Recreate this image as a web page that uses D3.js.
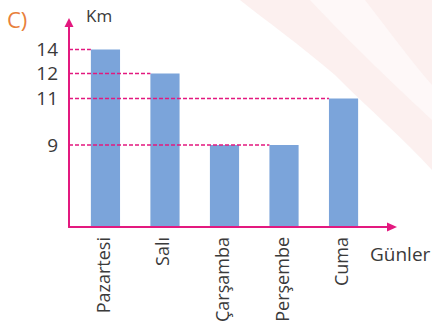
<!DOCTYPE html>
<html>
<head>
<meta charset="utf-8">
<script src="https://cdn.jsdelivr.net/npm/d3@7/dist/d3.min.js"></script>
<style>
  html, body { margin: 0; padding: 0; background: #fff; }
  svg { display: block; }
  text { font-family: "Open Sans", "Noto Sans", sans-serif; fill: #3a3a3a; }
</style>
</head>
<body>
<svg id="chart" width="432" height="332"></svg>
<script>
// Distance run each day (km)
const days = ["Pazartesi", "Salı", "Çarşamba", "Perşembe", "Cuma"];
const km = [14, 12, 9, 9, 11];
const tickValues = [14, 12, 11, 9];

const magenta = "#e3197f";
const barColor = "#7ba4da";

const svg = d3.select("#chart");

// pale decorative backdrop in the top-right corner
const bg = svg.append("g");
bg.append("path")
  .attr("d", "M240,0 L432,0 L432,170 C405,140 370,110 335,75 C300,45 265,20 240,0 Z")
  .attr("fill", "#fcf0ef");
bg.append("path")
  .attr("d", "M310,0 L365,0 C392,35 412,62 432,85 L432,120 C400,90 352,45 310,0 Z")
  .attr("fill", "#fef8f8");

const x0 = 69, y0 = 227;          // axis origin
const xEnd = 397, yTop = 18;      // arrow tips

// Category axis
const x = d3.scaleBand()
  .domain(days)
  .range([76, 373])
  .paddingInner(0.51)
  .paddingOuter(0.25);

// The value axis is drawn schematically: uneven spacing between labelled levels
const y = d3.scaleLinear()
  .domain([0, 9, 11, 12, 14])
  .range([y0, 145, 98.5, 73.5, 49.5]);

// Bars
svg.append("g")
  .selectAll("rect")
  .data(days)
  .join("rect")
  .attr("x", d => x(d))
  .attr("width", x.bandwidth())
  .attr("y", (d, i) => y(km[i]))
  .attr("height", (d, i) => y0 - y(km[i]))
  .attr("fill", barColor);

// Dashed guide lines from the axis to the furthest bar with that value
const guides = tickValues.map(v => {
  let last = -1;
  km.forEach((k, i) => { if (k === v) last = i; });
  return { v, day: days[last] };
});
svg.append("g")
  .selectAll("line")
  .data(guides)
  .join("line")
  .attr("x1", x0)
  .attr("x2", d => x(d.day))
  .attr("y1", d => y(d.v))
  .attr("y2", d => y(d.v))
  .attr("stroke", magenta)
  .attr("stroke-width", 1.6)
  .attr("stroke-dasharray", "4,2");

// Tick labels
svg.append("g")
  .selectAll("text")
  .data(tickValues)
  .join("text")
  .attr("x", 58)
  .attr("y", d => y(d))
  .attr("dy", "0.36em")
  .attr("text-anchor", "end")
  .attr("font-size", 19)
  .text(d => d);

// Axes with arrow heads
svg.append("line")
  .attr("x1", x0).attr("y1", y0 + 0.8)
  .attr("x2", x0).attr("y2", yTop + 5)
  .attr("stroke", magenta).attr("stroke-width", 2);
svg.append("line")
  .attr("x1", x0 - 0.8).attr("y1", y0)
  .attr("x2", xEnd - 5).attr("y2", y0)
  .attr("stroke", magenta).attr("stroke-width", 2);
svg.append("path")
  .attr("d", `M${x0},${yTop} L${x0 - 4.5},${yTop + 9} L${x0 + 4.5},${yTop + 9} Z`)
  .attr("fill", magenta);
svg.append("path")
  .attr("d", `M${xEnd},${y0} L${xEnd - 10},${y0 - 4.5} L${xEnd - 10},${y0 + 4.5} Z`)
  .attr("fill", magenta);

// Day labels, rotated
svg.append("g")
  .selectAll("text")
  .data(days)
  .join("text")
  .attr("transform", d => `translate(${x(d) + x.bandwidth() / 2 - 2},237) rotate(-90)`)
  .attr("text-anchor", "end")
  .attr("dy", "0.36em")
  .attr("font-size", 18)
  .text(d => d);

// Axis titles
svg.append("text")
  .attr("x", 86).attr("y", 22)
  .attr("font-size", 17)
  .text("Km");
svg.append("text")
  .attr("x", 370).attr("y", 261)
  .attr("font-size", 19)
  .text("Günler");

// Item letter
svg.append("text")
  .attr("x", 7).attr("y", 28)
  .attr("font-size", 22)
  .style("fill", "#e8803c")
  .text("C)");
</script>
</body>
</html>
